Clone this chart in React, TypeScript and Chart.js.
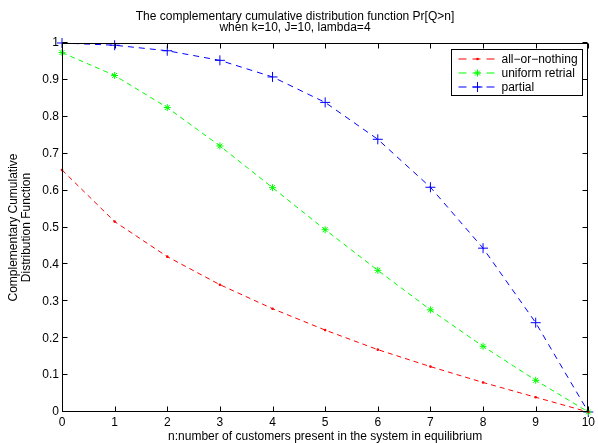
import React, { useEffect, useRef } from "react";
import { Chart, registerables } from "chart.js";

Chart.register(...registerables);

const nValues = [0, 1, 2, 3, 4, 5, 6, 7, 8, 9, 10];
const allOrNothing = [0.656, 0.516, 0.421, 0.345, 0.28, 0.222, 0.169, 0.123, 0.08, 0.04, 0];
const uniformRetrial = [0.974, 0.912, 0.825, 0.721, 0.608, 0.494, 0.384, 0.277, 0.178, 0.086, 0];
const partial = [1.0, 0.994, 0.979, 0.953, 0.908, 0.839, 0.739, 0.609, 0.444, 0.242, 0];

const seriesLabels = ["all\u2212or\u2212nothing", "uniform retrial", "partial"];
const titleLines = [
  "The complementary cumulative distribution function Pr[Q>n]",
  "when k=10, J=10, lambda=4",
];
const xTitle = "n:number of customers present in the system in equilibrium";
const yTitle = ["Complementary Cumulative", "Distribution Function"];

const FONT = "'Liberation Sans', Arial, Helvetica, sans-serif";

function drawMarker(ctx: CanvasRenderingContext2D, style: string, x: number, y: number, r: number, color: string) {
  ctx.save();
  ctx.strokeStyle = color;
  ctx.fillStyle = color;
  ctx.lineWidth = 1;
  ctx.setLineDash([]);
  ctx.beginPath();
  if (style === "circle") {
    ctx.arc(x, y, r, 0, Math.PI * 2);
    ctx.fill();
  } else if (style === "star") {
    const d = r * Math.SQRT1_2;
    ctx.moveTo(x - r, y); ctx.lineTo(x + r, y);
    ctx.moveTo(x, y - r); ctx.lineTo(x, y + r);
    ctx.moveTo(x - d, y - d); ctx.lineTo(x + d, y + d);
    ctx.moveTo(x - d, y + d); ctx.lineTo(x + d, y - d);
    ctx.stroke();
  } else {
    ctx.moveTo(x - r, y); ctx.lineTo(x + r, y);
    ctx.moveTo(x, y - r); ctx.lineTo(x, y + r);
    ctx.stroke();
  }
  ctx.restore();
}

const boxPlugin = {
  id: "matlabBox",
  afterDatasetsDraw(chart: any) {
    const { ctx, chartArea: a, scales } = chart;
    const x = scales.x;
    const y = scales.y;
    ctx.save();
    ctx.strokeStyle = "#000";
    ctx.lineWidth = 1;
    ctx.setLineDash([]);
    const L = 5;
    ctx.beginPath();
    const left = Math.round(a.left) + 0.5;
    const right = Math.round(a.right) - 0.5;
    const top = Math.round(a.top) + 0.5;
    const bottom = Math.round(a.bottom) - 0.5;
    x.ticks.forEach((t: any) => {
      const px = Math.round(x.getPixelForValue(t.value)) + 0.5;
      ctx.moveTo(px, bottom); ctx.lineTo(px, bottom - L);
      ctx.moveTo(px, top); ctx.lineTo(px, top + L);
    });
    y.ticks.forEach((t: any) => {
      const py = Math.round(y.getPixelForValue(t.value)) - 0.5;
      ctx.moveTo(left, py); ctx.lineTo(left + L, py);
      ctx.moveTo(right, py); ctx.lineTo(right - L, py);
    });
    ctx.stroke();
    ctx.strokeRect(left, top, right - left, bottom - top);

    // legend box
    const bw = 131, bh = 46;
    const bx = Math.round(a.right - 6 - bw) + 0.5;
    const by = Math.round(a.top + 6) + 0.5;
    ctx.fillStyle = "#fff";
    ctx.fillRect(bx, by, bw, bh);
    ctx.strokeRect(bx, by, bw, bh);
    ctx.font = `12px ${FONT}`;
    ctx.textBaseline = "middle";
    ctx.textAlign = "left";
    chart.data.datasets.forEach((ds: any, i: number) => {
      const ry = by + 9.5 + i * 14;
      ctx.save();
      ctx.strokeStyle = ds.borderColor;
      ctx.lineWidth = 1;
      ctx.setLineDash([8, 6]);
      ctx.beginPath();
      ctx.moveTo(bx + 7, ry);
      ctx.lineTo(bx + 45, ry);
      ctx.stroke();
      ctx.restore();
      drawMarker(ctx, ds.pointStyle, bx + 26, ry, ds.pointRadius, ds.borderColor);
      ctx.fillStyle = "#000";
      ctx.fillText(ds.label, bx + 50, ry + 0.5);
    });
    ctx.restore();
  },
};

export default function App() {
  const ref = useRef<HTMLCanvasElement | null>(null);

  useEffect(() => {
    if (!ref.current) return;
    Chart.defaults.font.family = FONT;
    Chart.defaults.color = "#000";
    const mk = (vals: number[]) => nValues.map((n, i) => ({ x: n, y: vals[i] }));
    const chart = new Chart(ref.current, {
      type: "line",
      data: {
        datasets: [
          {
            label: seriesLabels[0],
            data: mk(allOrNothing),
            borderColor: "#ff0000",
            backgroundColor: "#ff0000",
            borderWidth: 1,
            borderDash: [5, 4],
            pointStyle: "circle",
            pointRadius: 1.3,
            pointBorderWidth: 0,
            fill: false,
            clip: false,
          },
          {
            label: seriesLabels[1],
            data: mk(uniformRetrial),
            borderColor: "#00ff00",
            backgroundColor: "#00ff00",
            borderWidth: 1,
            borderDash: [5, 4],
            pointStyle: "star",
            pointRadius: 3.5,
            pointBorderWidth: 1,
            fill: false,
            clip: false,
          },
          {
            label: seriesLabels[2],
            data: mk(partial),
            borderColor: "#0000ff",
            backgroundColor: "#0000ff",
            borderWidth: 1,
            borderDash: [6, 5],
            pointStyle: "cross",
            pointRadius: 5,
            pointBorderWidth: 1,
            fill: false,
            clip: false,
          },
        ] as any,
      },
      options: {
        animation: false,
        responsive: false,
        events: [],
        layout: { padding: { left: 0, right: 8, top: 0, bottom: 0 } },
        plugins: {
          legend: { display: false },
          tooltip: { enabled: false },
          title: {
            display: true,
            text: titleLines,
            color: "#000",
            font: { size: 12, weight: "normal", lineHeight: 0.85, family: FONT },
            padding: { top: 12, bottom: 10.6 },
          },
        },
        scales: {
          x: {
            type: "linear",
            min: 0,
            max: 10,
            grid: { display: false, drawTicks: false },
            border: { display: false },
            ticks: { stepSize: 1, color: "#000", font: { size: 12 }, padding: 3, maxRotation: 0 },
            title: {
              display: true,
              text: xTitle,
              color: "#000",
              font: { size: 12, lineHeight: 1.08 },
              padding: { top: 0, bottom: 0 },
            },
            afterFit: (s: any) => { s.height = 31; },
          },
          y: {
            type: "linear",
            min: 0,
            max: 1,
            grid: { display: false, drawTicks: false },
            border: { display: false },
            ticks: {
              stepSize: 0.1,
              color: "#000",
              font: { size: 12 },
              padding: 3,
              callback: (v: any) => String(Number(Number(v).toFixed(1))),
            },
            title: {
              display: true,
              text: yTitle,
              color: "#000",
              font: { size: 12, lineHeight: 1.08 },
              padding: { top: 7, bottom: 0 },
            },
            afterFit: (s: any) => { s.width = 62; },
          },
        },
      },
      plugins: [boxPlugin],
    } as any);
    return () => chart.destroy();
  }, []);

  return (
    <div style={{ position: "fixed", left: 0, top: 0, width: 598, height: 443, background: "#fff" }}>
      <canvas ref={ref} width={598} height={443} style={{ width: 598, height: 443, display: "block" }} />
    </div>
  );
}
